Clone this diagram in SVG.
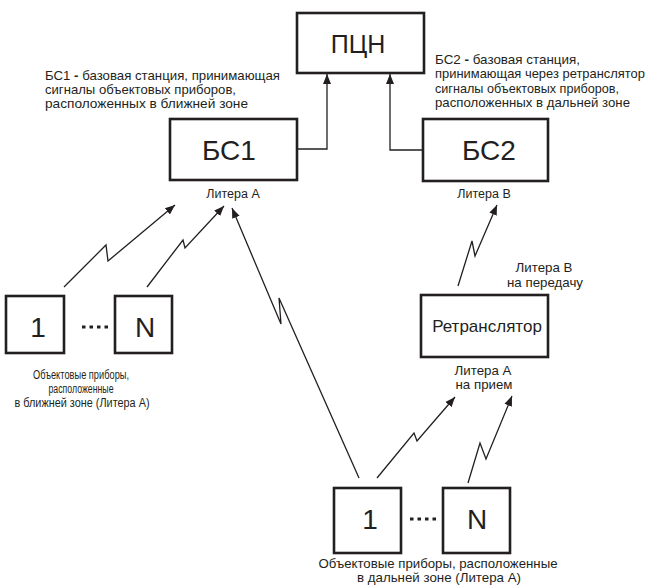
<svg xmlns="http://www.w3.org/2000/svg" width="651" height="586" viewBox="0 0 651 586">
<style>
text{font-family:"Liberation Sans",Arial,sans-serif;fill:#231f20}
.box{fill:#fff;stroke:#231f20;stroke-width:2.6}
.big{font-size:28px;text-anchor:middle}
.pcn{font-size:25px;text-anchor:middle}
.lbl{font-size:12.5px;text-anchor:middle}
.lbl2{font-size:13.3px;text-anchor:middle}
.desc{font-size:13.3px}
.ctr{font-size:13.3px;text-anchor:middle}
.ctrs{font-size:12.5px;text-anchor:middle}
.ln{fill:none;stroke:#231f20;stroke-width:1.3}
.dots{fill:none;stroke:#231f20;stroke-width:3;stroke-dasharray:3.5 4}
</style>
<defs>
<marker id="ah" viewBox="0 0 10 10" refX="10" refY="5" markerWidth="10" markerHeight="10" markerUnits="userSpaceOnUse" orient="auto">
<path d="M0,1 L10,5 L0,9 Z" fill="#231f20"/>
</marker>
</defs>
<rect width="651" height="586" fill="#fff"/>

<g id="pcn">
<rect class="box" x="297" y="13" width="127" height="60"/>
<text class="pcn" x="358" y="53">ПЦН</text>
</g>

<g id="bs1">
<rect class="box" x="170" y="119" width="127" height="61"/>
<text class="big" x="229" y="160">БС1</text>
<text class="lbl" x="233" y="198">Литера А</text>
<text class="desc" x="45" y="80" textLength="235" lengthAdjust="spacingAndGlyphs">БС1 <tspan font-weight="bold">-</tspan> базовая станция, принимающая</text>
<text class="desc" x="45" y="94" textLength="191" lengthAdjust="spacingAndGlyphs">сигналы объектовых приборов,</text>
<text class="desc" x="45" y="108" textLength="203" lengthAdjust="spacingAndGlyphs">расположенных в ближней зоне</text>
</g>

<g id="bs2">
<rect class="box" x="423" y="119" width="125" height="62"/>
<text class="big" x="489" y="160">БС2</text>
<text class="lbl" x="484" y="198">Литера В</text>
<text class="desc" x="435" y="64" textLength="145" lengthAdjust="spacingAndGlyphs">БС2 <tspan font-weight="bold">-</tspan> базовая станция,</text>
<text class="desc" x="435" y="78" textLength="210" lengthAdjust="spacingAndGlyphs">принимающая через ретранслятор</text>
<text class="desc" x="435" y="93" textLength="184" lengthAdjust="spacingAndGlyphs">сигналы объектовых приборов,</text>
<text class="desc" x="435" y="107" textLength="195" lengthAdjust="spacingAndGlyphs">расположенных в дальней зоне</text>
</g>

<g id="retr">
<rect class="box" x="421" y="295" width="127" height="62"/>
<text x="487" y="332" font-size="17" text-anchor="middle">Ретранслятор</text>
<text class="lbl2" x="544" y="272">Литера В</text>
<text class="lbl2" x="545" y="287">на передачу</text>
<text class="lbl2" x="483" y="375">Литера А</text>
<text class="lbl2" x="484" y="389">на прием</text>
</g>

<g id="near-devices">
<rect class="box" x="6" y="296" width="58" height="57"/>
<text class="big" x="38" y="337" font-size="31">1</text>
<line class="dots" x1="82" y1="327" x2="108" y2="327"/>
<rect class="box" x="115" y="296" width="57" height="57"/>
<text class="big" x="145" y="337" font-size="31">N</text>
<text class="ctrs" x="81" y="379" textLength="96" lengthAdjust="spacingAndGlyphs">Объектовые приборы,</text>
<text class="ctrs" x="81" y="393" textLength="65" lengthAdjust="spacingAndGlyphs">расположенные</text>
<text class="ctrs" x="82" y="407" textLength="135" lengthAdjust="spacingAndGlyphs">в ближней зоне (Литера А)</text>
</g>

<g id="far-devices">
<rect class="box" x="334" y="488" width="67" height="65"/>
<text class="big" x="370" y="529" font-size="30">1</text>
<line class="dots" x1="410" y1="519" x2="437" y2="519"/>
<rect class="box" x="443" y="488" width="67" height="65"/>
<text class="big" x="477" y="529" font-size="30">N</text>
<text class="ctr" x="438" y="568" textLength="239" lengthAdjust="spacingAndGlyphs">Объектовые приборы, расположенные</text>
<text class="ctr" x="439" y="582" textLength="164" lengthAdjust="spacingAndGlyphs">в дальней зоне (Литера А)</text>
</g>

<g id="connectors">
<polyline class="ln" points="297,149 327,149 327,74" marker-end="url(#ah)"/>
<polyline class="ln" points="423,150 390,150 390,74" marker-end="url(#ah)"/>
<polyline class="ln" points="64,287 106,245 108,261 175,205" marker-end="url(#ah)"/>
<polyline class="ln" points="147,287 183,240 185,248 224,206" marker-end="url(#ah)"/>
<polyline class="ln" points="359,478 279,298 281,324 232,208" marker-end="url(#ah)"/>
<polyline class="ln" points="458,286 472,241 475,256 497,205" marker-end="url(#ah)"/>
<polyline class="ln" points="377,478 414,433 417,441 455,397" marker-end="url(#ah)"/>
<polyline class="ln" points="468,483 480,443 486,459 512,396" marker-end="url(#ah)"/>
</g>
</svg>
